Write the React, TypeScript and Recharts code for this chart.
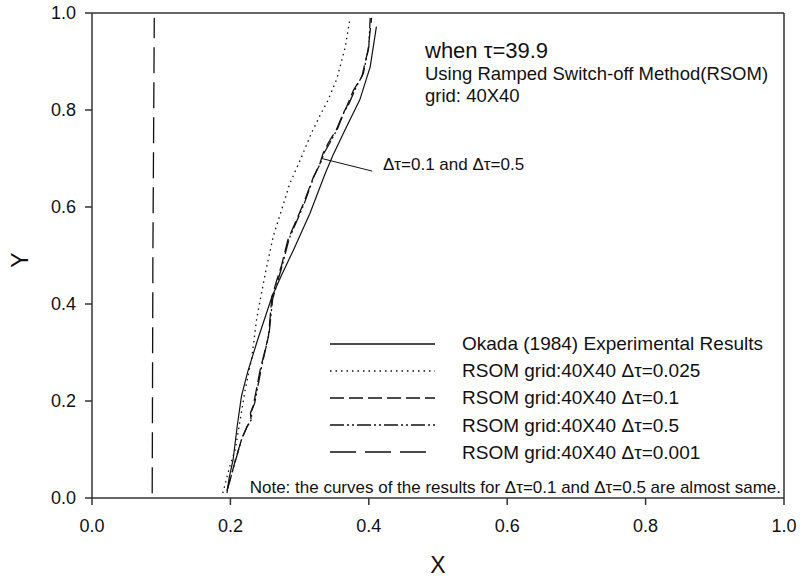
import React from "react";
import { LineChart, Line, XAxis, YAxis, ReferenceLine } from "recharts";

const okada = [
  { x: 0.195, y: 0.01 }, { x: 0.198, y: 0.04 }, { x: 0.204, y: 0.08 }, { x: 0.21, y: 0.15 },
  { x: 0.216, y: 0.21 }, { x: 0.225, y: 0.26 }, { x: 0.238, y: 0.32 }, { x: 0.26, y: 0.415 },
  { x: 0.274, y: 0.46 }, { x: 0.291, y: 0.511 }, { x: 0.315, y: 0.587 }, { x: 0.337, y: 0.669 },
  { x: 0.348, y: 0.706 }, { x: 0.368, y: 0.766 }, { x: 0.387, y: 0.821 }, { x: 0.402, y: 0.889 },
  { x: 0.411, y: 0.972 },
];

const rsom0025 = [
  { x: 0.189, y: 0.01 }, { x: 0.199, y: 0.065 }, { x: 0.207, y: 0.1 }, { x: 0.214, y: 0.16 },
  { x: 0.221, y: 0.22 }, { x: 0.231, y: 0.29 }, { x: 0.238, y: 0.37 }, { x: 0.25, y: 0.46 },
  { x: 0.262, y: 0.54 }, { x: 0.274, y: 0.594 }, { x: 0.286, y: 0.649 }, { x: 0.301, y: 0.697 },
  { x: 0.317, y: 0.752 }, { x: 0.33, y: 0.79 }, { x: 0.341, y: 0.82 }, { x: 0.354, y: 0.865 },
  { x: 0.366, y: 0.93 }, { x: 0.373, y: 0.99 },
];

const rsom01 = [
  { x: 0.195, y: 0.015 }, { x: 0.202, y: 0.05 }, { x: 0.207, y: 0.078 }, { x: 0.216, y: 0.12 },
  { x: 0.224, y: 0.147 }, { x: 0.23, y: 0.16 }, { x: 0.229, y: 0.175 }, { x: 0.233, y: 0.19 },
  { x: 0.243, y: 0.264 }, { x: 0.255, y: 0.333 }, { x: 0.26, y: 0.415 }, { x: 0.267, y: 0.449 },
  { x: 0.274, y: 0.48 }, { x: 0.283, y: 0.532 }, { x: 0.296, y: 0.575 }, { x: 0.305, y: 0.605 },
  { x: 0.32, y: 0.662 }, { x: 0.329, y: 0.688 }, { x: 0.334, y: 0.711 }, { x: 0.341, y: 0.731 },
  { x: 0.353, y: 0.759 }, { x: 0.363, y: 0.793 }, { x: 0.368, y: 0.807 }, { x: 0.378, y: 0.841 },
  { x: 0.39, y: 0.869 }, { x: 0.399, y: 0.924 }, { x: 0.404, y: 0.99 },
];

const rsom05 = [
  { x: 0.196, y: 0.02 }, { x: 0.203, y: 0.055 }, { x: 0.209, y: 0.085 }, { x: 0.217, y: 0.125 },
  { x: 0.225, y: 0.15 }, { x: 0.231, y: 0.163 }, { x: 0.23, y: 0.178 }, { x: 0.235, y: 0.195 },
  { x: 0.245, y: 0.27 }, { x: 0.256, y: 0.34 }, { x: 0.261, y: 0.41 }, { x: 0.269, y: 0.45 },
  { x: 0.276, y: 0.485 }, { x: 0.285, y: 0.535 }, { x: 0.298, y: 0.578 }, { x: 0.307, y: 0.608 },
  { x: 0.321, y: 0.664 }, { x: 0.33, y: 0.69 }, { x: 0.336, y: 0.713 }, { x: 0.344, y: 0.733 },
  { x: 0.355, y: 0.762 }, { x: 0.364, y: 0.795 }, { x: 0.371, y: 0.812 }, { x: 0.381, y: 0.845 },
  { x: 0.392, y: 0.875 }, { x: 0.4, y: 0.93 }, { x: 0.402, y: 0.99 },
];

const rsom0001 = [
  { x: 0.087, y: 0.01 }, { x: 0.088, y: 0.5 }, { x: 0.09, y: 0.99 },
];

const ticks = [0, 0.2, 0.4, 0.6, 0.8, 1.0];

const seriesInfo = [
  { name: "Okada (1984) Experimental Results", dash: "" },
  { name: "RSOM grid:40X40 \u0394\u03c4=0.025", dash: "1.5 4" },
  { name: "RSOM grid:40X40 \u0394\u03c4=0.1", dash: "14 5" },
  { name: "RSOM grid:40X40 \u0394\u03c4=0.5", dash: "14 3 2 3 2 3" },
  { name: "RSOM grid:40X40 \u0394\u03c4=0.001", dash: "26 9" },
];

const font = "'Liberation Sans', Arial, sans-serif";
const ink = "#111";

// legend drawn outside the chart so it doesn't eat plot space
function LegendBox() {
  return (
    <div style={{ position: "absolute", left: 330, top: 330, fontFamily: font, fontSize: 19, color: ink }}>
      {seriesInfo.map((s) => (
        <div key={s.name} style={{ display: "flex", alignItems: "center", height: 27.2 }}>
          <svg width={105} height={10} style={{ display: "block" }}>
            <line x1={0} y1={5} x2={105} y2={5} stroke={ink} strokeWidth={1.3} strokeDasharray={s.dash || undefined} />
          </svg>
          <span style={{ marginLeft: 27, whiteSpace: "nowrap", lineHeight: "27px" }}>{s.name}</span>
        </div>
      ))}
    </div>
  );
}

export default function App() {
  const fmt = (v: number) => v.toFixed(1);
  return (
    <div style={{ position: "absolute", left: 0, top: 0, width: 801, height: 579, background: "#fff" }}>
      <LineChart width={801} height={579} margin={{ top: 13, right: 17, left: 22, bottom: 21 }}>
        <XAxis
          dataKey="x"
          type="number"
          domain={[0, 1]}
          ticks={ticks}
          tickFormatter={fmt}
          stroke="#333"
          strokeWidth={1.5}
          tickSize={7}
          tickMargin={14}
          height={60}
          tick={{ fill: ink, fontSize: 18, fontFamily: font }}
        />
        <YAxis
          type="number"
          domain={[0, 1]}
          ticks={ticks}
          tickFormatter={fmt}
          stroke="#333"
          strokeWidth={1.5}
          tickSize={7}
          tickMargin={9}
          width={70}
          tick={{ fill: ink, fontSize: 18, fontFamily: font }}
        />
        <ReferenceLine y={1} stroke="#333" strokeWidth={1.5} />
        <ReferenceLine x={1} stroke="#333" strokeWidth={1.5} />
        <ReferenceLine
          segment={[{ x: 0.332, y: 0.7 }, { x: 0.405, y: 0.674 }]}
          stroke={ink}
          strokeWidth={1}
        />
        <Line data={okada} dataKey="y" name={seriesInfo[0].name} stroke={ink} strokeWidth={1.2} dot={false} isAnimationActive={false} />
        <Line data={rsom0025} dataKey="y" name={seriesInfo[1].name} stroke={ink} strokeWidth={1.3} strokeDasharray={seriesInfo[1].dash} dot={false} isAnimationActive={false} />
        <Line data={rsom01} dataKey="y" name={seriesInfo[2].name} stroke={ink} strokeWidth={1.3} strokeDasharray={seriesInfo[2].dash} dot={false} isAnimationActive={false} />
        <Line data={rsom05} dataKey="y" name={seriesInfo[3].name} stroke={ink} strokeWidth={1.3} strokeDasharray={seriesInfo[3].dash} dot={false} isAnimationActive={false} />
        <Line data={rsom0001} dataKey="y" name={seriesInfo[4].name} stroke={ink} strokeWidth={1.3} strokeDasharray={seriesInfo[4].dash} dot={false} isAnimationActive={false} />
      </LineChart>
      <LegendBox />
      <svg width={801} height={579} style={{ position: "absolute", left: 0, top: 0, pointerEvents: "none" }} fontFamily={font} fill={ink}>
        <text x={425} y={58} fontSize={22}>when {"\u03c4"}=39.9</text>
        <text x={425} y={79.5} fontSize={18.5}>Using Ramped Switch-off Method(RSOM)</text>
        <text x={425} y={101.5} fontSize={18.5}>grid: 40X40</text>
        <text x={383} y={170} fontSize={17}>{"\u0394\u03c4"}=0.1 and {"\u0394\u03c4"}=0.5</text>
        <text x={781} y={492.5} fontSize={17} textAnchor="end">
          Note: the curves of the results for {"\u0394\u03c4"}=0.1 and {"\u0394\u03c4"}=0.5 are almost same.
        </text>
        <text x={438} y={573} fontSize={23} textAnchor="middle">X</text>
        <text x={20} y={260} fontSize={23} textAnchor="middle" dominantBaseline="central" transform="rotate(-90 20 260)">Y</text>
      </svg>
    </div>
  );
}
